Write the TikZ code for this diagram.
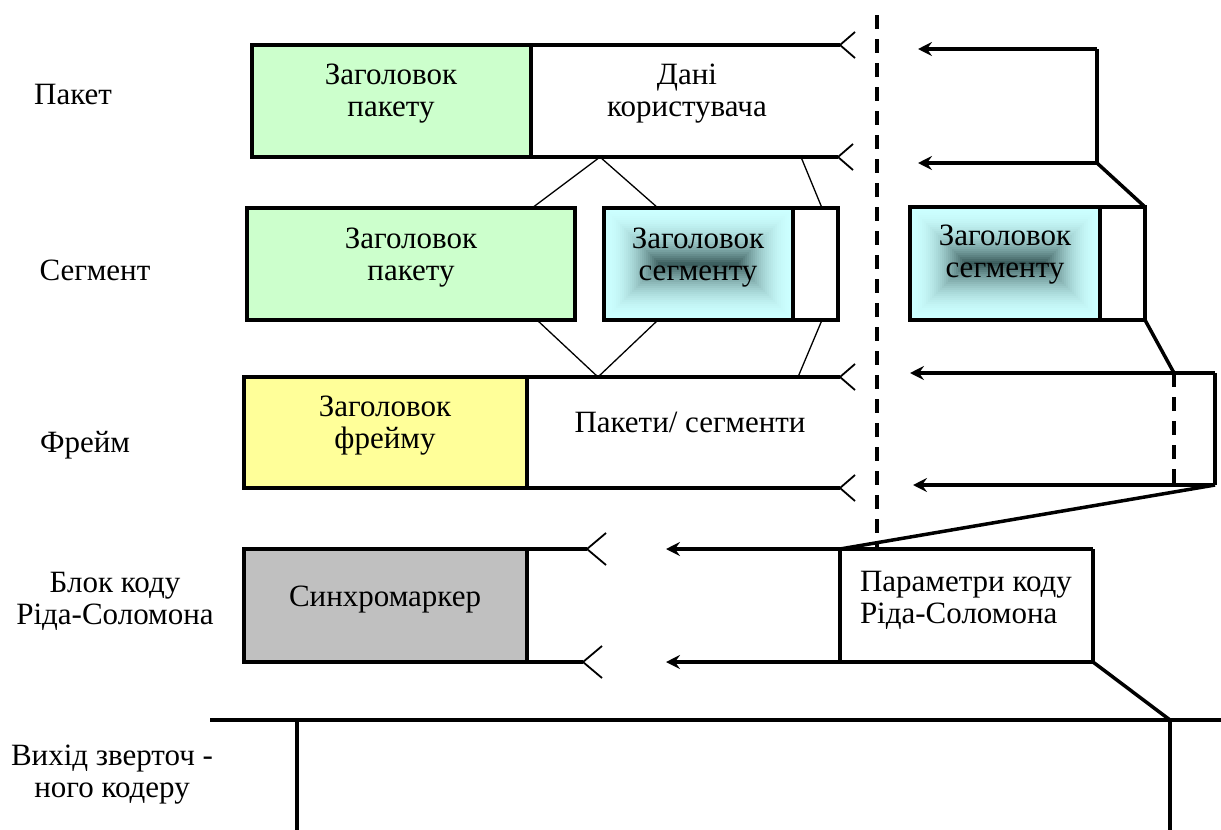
\documentclass[tikz,border=0pt]{standalone}
\usepackage{fontspec}
\setmainfont{Liberation Serif}
\usetikzlibrary{arrows.meta}

\definecolor{pgreen}{HTML}{CCFFCC}
\definecolor{pyellow}{HTML}{FFFF99}
\definecolor{pgray}{HTML}{C0C0C0}
\definecolor{scyan}{HTML}{CCFFFF}
\definecolor{sdark}{HTML}{355656}

\begin{document}
\begin{tikzpicture}[x=1pt,y=-1pt,
  every node/.style={font=\fontsize{31}{32}\selectfont, align=center,
                     inner sep=0pt, outer sep=0pt},
  box/.style={draw, line width=3.5pt, anchor=north west},
  segbox/.style={box, path picture={
      \foreach \k in {0,...,28}{
        \pgfmathsetmacro\d{2*\k}
        \pgfmathsetmacro\p{100*(\k/28)^2}
        \fill[sdark!\p!scyan]
          ([shift={(\d pt,-\d pt)}]path picture bounding box.north west)
          rectangle ([shift={(-\d pt,\d pt)}]path picture bounding box.south east);
      }}},
  thinln/.style={line width=1.3pt},
  heavy/.style={line width=3.5pt},
  brk/.style={line width=1.8pt},
  dashln/.style={line width=3.5pt, dash pattern=on 14pt off 10pt},
  arr/.style={line width=3.2pt, -{Stealth[length=14pt,width=14pt,inset=5pt]}},
]
\useasboundingbox (0,0) rectangle (1221,830);

% ---------- row labels ----------
\node (lpak) at (73,94) {Пакет};
\node (lseg) at (95,270) {Сегмент};
\node (lfr)  at (85,445) {Фрейм};
\node (lblk) at (115,601) {Блок коду\\Ріда-Соломона};
\node (lout) at (112,775) {Вихід зверточ -\\ного кодеру};

% ---------- packet ----------
\node[box, fill=pgreen, minimum width=279pt, minimum height=112pt] (ph) at (252,45) {};
\node (phT) at (391,94) {Заголовок\\пакету};
\coordinate (pd1) at (840,45);
\coordinate (pd2) at (838,157);
\draw[heavy] (ph.north east) -- (pd1);
\draw[heavy] (ph.south east) -- (pd2);
\draw[brk] (pd1) ++(15,-13) -- (pd1) -- ++(15,13);
\draw[brk] (pd2) ++(15,-13) -- (pd2) -- ++(15,13);
\node (pdT) at (687,94) {Дані\\користувача};

% right part of packet
\coordinate (pr1) at (1097,49);
\coordinate (pr2) at (1097,163);
\coordinate (pa1) at (918,49);
\coordinate (pa2) at (918,163);
\draw[heavy] (pr1) -- (pr2);
\draw[arr] (pr1) -- (pa1);
\draw[arr] (pr2) -- (pa2);

% ---------- segment ----------
\node[box, fill=pgreen, minimum width=328pt, minimum height=112pt] (sh) at (247,208) {};
\node (shT) at (411,258) {Заголовок\\пакету};
\node[segbox, minimum width=189pt, minimum height=112pt] (sc) at (604,208) {};
\node (scT) at (698,258) {Заголовок\\сегменту};
\node[box, minimum width=45pt, minimum height=112pt] (sw) at (793,208) {};

\node[segbox, minimum width=190pt, minimum height=113pt] (rc) at (910,207) {};
\node (rcT) at (1005,255) {Заголовок\\сегменту};
\node[box, minimum width=45pt, minimum height=113pt] (rw) at (1100,207) {};

% fan lines packet -> segment
\coordinate (pf1) at (600,157);
\coordinate (pf2) at (801,157);
\coordinate (st1) at (532,208);
\coordinate (st2) at (658,208);
\coordinate (st3) at (822,208);
\draw[thinln] (pf1) -- (st1);
\draw[thinln] (pf1) -- (st2);
\draw[thinln] (pf2) -- (st3);
\draw[heavy] (pr2) -- (rw.north east);

% ---------- frame ----------
\node[box, fill=pyellow, minimum width=283pt, minimum height=111pt] (fh) at (244,377) {};
\node (fhT) at (385,426) {Заголовок\\фрейму};
\coordinate (fd1) at (840,377);
\coordinate (fd2) at (840,488);
\draw[heavy] (fh.north east) -- (fd1);
\draw[heavy] (fh.south east) -- (fd2);
\draw[brk] (fd1) ++(15,-13) -- (fd1) -- ++(15,13);
\draw[brk] (fd2) ++(15,-13) -- (fd2) -- ++(15,13);
\node (fdT) at (690,422) {Пакети/ сегменти};

% fan lines segment -> frame
\coordinate (sb1) at (537,320);
\coordinate (sb2) at (658,320);
\coordinate (sb3) at (822,320);
\coordinate (sf1) at (598,377);
\coordinate (sf2) at (798,377);
\draw[thinln] (sb1) -- (sf1);
\draw[thinln] (sb2) -- (sf1);
\draw[thinln] (sb3) -- (sf2);

% right part of frame
\coordinate (fr1) at (1215,373);
\coordinate (fr2) at (1215,485);
\coordinate (fs1) at (1174,373);
\coordinate (fs2) at (1174,485);
\coordinate (fa1) at (910,373);
\coordinate (fa2) at (913,485);
\draw[heavy] (fr1) -- (fr2);
\draw[dashln] (fs1) -- (fs2);
\draw[arr] (fr1) -- (fa1);
\draw[arr] (fr2) -- (fa2);
\draw[heavy] (rw.south east) -- (fs1);

% ---------- Reed-Solomon block ----------
\node[box, fill=pgray, minimum width=283pt, minimum height=113pt] (bh) at (244,549) {};
\node (bhT) at (385,600) {Синхромаркер};
\coordinate (bd1) at (587,549);
\coordinate (bd2) at (583,662);
\draw[heavy] (bh.north east) -- (bd1);
\draw[heavy] (bh.south east) -- (bd2);
\draw[brk] (bd1) ++(19,-16) -- (bd1) -- ++(19,16);
\draw[brk] (bd2) ++(19,-16) -- (bd2) -- ++(19,16);

\coordinate (bp1) at (840,549);
\coordinate (bp2) at (840,660);
\coordinate (br1) at (1093,549);
\coordinate (br2) at (1093,662);
\coordinate (ba1) at (666,549);
\coordinate (ba2) at (666,662);
\draw[heavy] (bp1) -- (bp2);
\draw[heavy] (br1) -- (br2);
\draw[arr] (br1) -- (ba1);
\draw[arr] (br2) -- (ba2);
\node[anchor=west, align=left] (bpT) at (860,600) {Параметри коду\\Ріда-Соломона};
\draw[heavy] (fr2) -- (bp1);

% ---------- convolutional coder output ----------
\coordinate (o1) at (210,720);
\coordinate (o2) at (1221,720);
\coordinate (ov1) at (297,720);
\coordinate (ov2) at (297,830);
\coordinate (ov3) at (1170,720);
\coordinate (ov4) at (1170,830);
\draw[heavy] (o1) -- (o2);
\draw[heavy] (ov1) -- (ov2);
\draw[heavy] (ov3) -- (ov4);
\draw[heavy] (br2) -- (ov3);

% ---------- cut line ----------
\coordinate (cut1) at (877,15);
\coordinate (cut2) at (877,548);
\draw[dashln] (cut1) -- (cut2);
\end{tikzpicture}
\end{document}
